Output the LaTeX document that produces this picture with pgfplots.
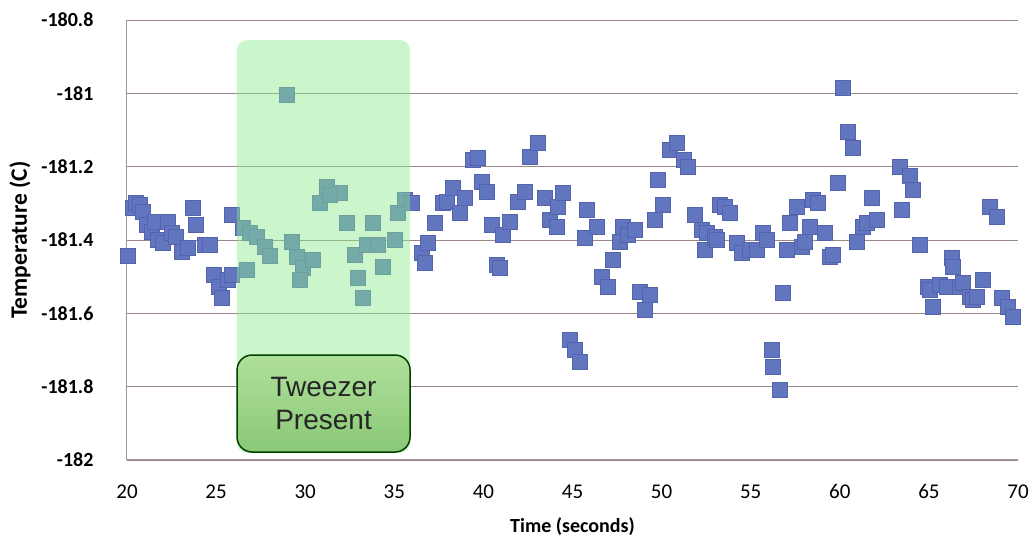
\documentclass[border=0pt]{standalone}
\usepackage{pgfplots}
\pgfplotsset{compat=1.18}
\usepackage{pgfplotstable}
\usepackage{fontspec}
\setmainfont{Carlito}
\newfontfamily\arialfont{Liberation Sans}
\definecolor{ptblue}{RGB}{98,118,192}
\definecolor{ptedge}{RGB}{84,100,172}
\definecolor{gridc}{RGB}{155,135,135}
\definecolor{axc}{RGB}{160,150,150}
\definecolor{tweezgreen}{RGB}{140,235,140}
\definecolor{boxtop}{RGB}{176,224,156}
\definecolor{boxbot}{RGB}{138,200,118}

\pgfplotstableread{
x y
20.06 -181.444
20.34 -181.313
20.50 -181.300
20.73 -181.305
20.90 -181.324
21.12 -181.359
21.40 -181.378
21.57 -181.351
21.74 -181.400
22.02 -181.408
22.30 -181.351
22.53 -181.381
22.75 -181.392
23.09 -181.433
23.42 -181.422
23.70 -181.313
23.87 -181.359
24.38 -181.414
24.66 -181.414
24.88 -181.495
25.16 -181.528
25.33 -181.558
25.67 -181.509
25.89 -181.495
25.89 -181.332
26.51 -181.367
26.90 -181.381
27.30 -181.392
27.74 -181.419
28.02 -181.444
26.73 -181.482
28.98 -181.005
29.26 -181.405
29.54 -181.446
29.88 -181.476
30.44 -181.455
29.71 -181.509
31.22 -181.255
31.95 -181.272
30.83 -181.299
31.39 -181.277
32.35 -181.354
32.79 -181.441
32.96 -181.504
33.24 -181.558
33.80 -181.354
33.47 -181.414
34.09 -181.414
34.37 -181.474
35.04 -181.400
35.21 -181.326
35.60 -181.291
35.99 -181.299
36.55 -181.435
36.72 -181.463
36.89 -181.408
37.28 -181.354
37.73 -181.299
37.96 -181.296
38.29 -181.258
38.69 -181.326
38.97 -181.285
39.42 -181.182
39.70 -181.176
39.92 -181.242
40.20 -181.269
40.48 -181.359
40.76 -181.468
40.93 -181.476
41.10 -181.386
41.49 -181.351
41.94 -181.296
42.33 -181.269
42.62 -181.174
43.06 -181.135
43.46 -181.285
43.74 -181.345
44.13 -181.365
44.19 -181.310
44.47 -181.272
44.86 -181.673
45.14 -181.700
45.42 -181.733
45.81 -181.318
45.70 -181.395
46.38 -181.365
46.66 -181.501
47.00 -181.528
47.27 -181.455
47.67 -181.405
47.83 -181.365
48.11 -181.386
48.51 -181.373
48.79 -181.542
49.35 -181.550
49.07 -181.591
49.63 -181.345
49.80 -181.236
50.08 -181.305
50.47 -181.155
50.86 -181.135
51.26 -181.182
51.48 -181.201
51.87 -181.332
52.27 -181.373
52.44 -181.427
52.55 -181.381
53.00 -181.392
53.11 -181.400
53.28 -181.305
53.56 -181.310
53.84 -181.326
54.23 -181.408
54.51 -181.435
54.96 -181.427
55.35 -181.427
55.69 -181.381
55.91 -181.400
56.20 -181.700
56.25 -181.746
56.64 -181.809
56.81 -181.545
57.04 -181.427
57.21 -181.354
57.60 -181.310
57.88 -181.419
58.05 -181.405
58.33 -181.365
58.50 -181.291
58.78 -181.299
59.17 -181.381
59.45 -181.446
59.62 -181.441
59.90 -181.245
60.18 -180.985
60.46 -181.105
60.74 -181.149
60.97 -181.405
61.30 -181.365
61.53 -181.354
61.81 -181.285
62.09 -181.345
63.38 -181.201
63.49 -181.318
63.94 -181.224
64.11 -181.264
64.50 -181.414
64.95 -181.528
65.06 -181.536
65.23 -181.583
65.62 -181.523
66.02 -181.528
66.30 -181.449
66.35 -181.474
66.74 -181.528
66.91 -181.517
67.31 -181.555
67.47 -181.564
67.70 -181.555
68.04 -181.509
68.43 -181.310
68.82 -181.337
69.10 -181.558
69.44 -181.583
69.72 -181.610
}\temps

\begin{document}
\begin{tikzpicture}
\begin{axis}[
  scale only axis, width=891pt, height=440pt,
  xmin=20, xmax=70, ymin=-182, ymax=-180.8,
  clip=false,
  axis lines*=left,
  axis line style={draw=axc, line width=1pt},
  xtick={20,25,30,35,40,45,50,55,60,65,70},
  ytick={-182,-181.8,-181.6,-181.4,-181.2,-181,-180.8},
  yticklabels={-182,-181.8,-181.6,-181.4,-181.2,-181,-180.8},
  ymajorgrids,
  major grid style={draw=gridc, line width=0.9pt},
  major tick length=0pt,
  /pgf/number format/assume math mode=true,
  xticklabel style={font=\fontsize{21}{25}\selectfont},
  yticklabel style={font=\bfseries\fontsize{20}{24}\selectfont},
  yticklabel shift=30pt,
  xticklabel shift=21pt,
  xlabel={Time (seconds)},
  ylabel={Temperature (C)},
  xlabel style={font=\bfseries\fontsize{20}{24}\selectfont, at={(axis description cs:0.5,0)}, anchor=center, yshift=-67pt},
  ylabel style={font=\bfseries\fontsize{23.5}{27}\selectfont, at={(axis description cs:0,0.5)}, anchor=center, yshift=107pt},
]
\addplot[only marks, mark=square*, mark size=7.5pt,
  mark options={fill=ptblue, draw=ptedge, line width=0.8pt, rounded corners=3pt}]
  table[x=x, y=y] {\temps};
\coordinate (g1) at (axis cs:26.17,-181.98);
\coordinate (g2) at (axis cs:35.88,-180.855);
\coordinate (lbl) at (axis cs:31.03,-181.846);
\coordinate (bl) at (rel axis cs:0,0);
\coordinate (tr) at (rel axis cs:1,1);
\end{axis}
\fill[tweezgreen, fill opacity=0.45, rounded corners=10pt] (g1) rectangle (g2);
\node[draw=black!75!green, line width=1.5pt, rounded corners=15pt,
  top color=boxtop, bottom color=boxbot,
  minimum width=173pt, minimum height=97pt, align=center, inner sep=0pt,
  font=\arialfont\fontsize{28}{33}\selectfont, text=black!85]
  at (lbl) {Tweezer\\Present};
\pgfresetboundingbox
\path[use as bounding box] ([shift={(-127pt,-83pt)}]bl) rectangle ([shift={(12pt,20pt)}]tr);
\end{tikzpicture}
\end{document}
